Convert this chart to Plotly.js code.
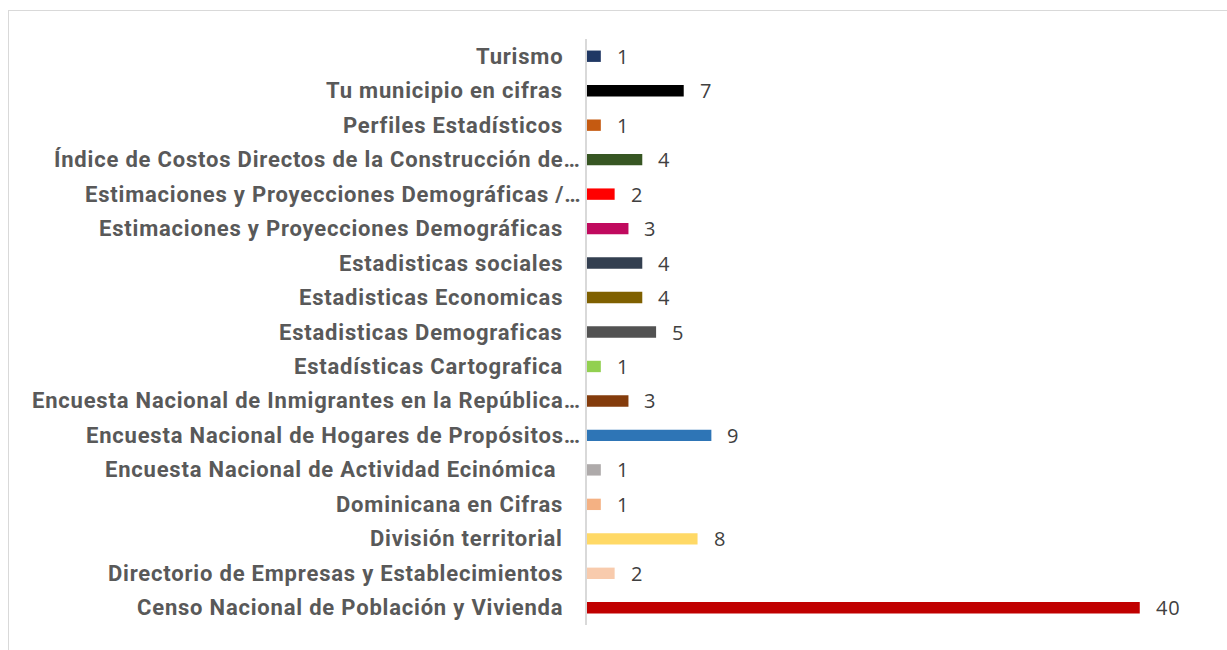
<!DOCTYPE html>
<html>
<head>
<meta charset="utf-8">
<script src="https://cdn.plot.ly/plotly-3.0.1.min.js"></script>
<style>
  html, body { margin: 0; padding: 0; background: #fff; overflow: hidden; }
  #frame { position: absolute; left: 8px; top: 10px; width: 1260px; height: 700px; border: 1px solid #d9d9d9; background: #fff; }
  #chart { position: absolute; left: 0; top: 0; width: 1218px; height: 639px; }
  .annotation-text { letter-spacing: 0.8px; }
</style>
</head>
<body>
<div id="frame"><div id="chart"></div></div>
<script>
// Categories listed bottom-to-top
var categories = [
  "Censo Nacional de Población y Vivienda",
  "Directorio de Empresas y Establecimientos",
  "División territorial",
  "Dominicana en Cifras",
  "Encuesta Nacional de Actividad Ecinómica ",
  "Encuesta Nacional de Hogares de Propósitos…",
  "Encuesta Nacional de Inmigrantes en la República…",
  "Estadísticas Cartografica",
  "Estadisticas Demograficas",
  "Estadisticas Economicas",
  "Estadisticas sociales",
  "Estimaciones y Proyecciones Demográficas",
  "Estimaciones y Proyecciones Demográficas /…",
  "Índice de Costos Directos de la Construcción de…",
  "Perfiles Estadísticos",
  "Tu municipio en cifras",
  "Turismo"
];
var values = [40, 2, 8, 1, 1, 9, 3, 1, 5, 4, 4, 3, 2, 4, 1, 7, 1];
var barColors = [
  "#C00000", "#F8CBAD", "#FFD966", "#F4B183", "#AEAAAA", "#2E75B6",
  "#843C0C", "#92D050", "#525252", "#7F6000", "#333F50", "#C00A5E",
  "#FF0000", "#375623", "#C55A11", "#000000", "#203864"
];

var trace = {
  type: "bar",
  orientation: "h",
  x: values,
  y: categories,
  marker: { color: barColors, line: { width: 0 } },
  hoverinfo: "x+y"
};

// Category labels (truncated ones reach closer to the axis, as in the source)
var labelAnnotations = categories.map(function (c) {
  var truncated = c.charAt(c.length - 1) === "…";
  return {
    x: 0, y: c, xref: "x", yref: "y",
    text: c.replace(/ $/, "&nbsp;"), showarrow: false,
    xanchor: "right", yanchor: "middle", align: "right",
    xshift: truncated ? -4 : -22,
    font: { family: "Roboto, sans-serif", size: 22, color: "#595959", weight: "bold" }
  };
});

var valueAnnotations = categories.map(function (c, i) {
  return {
    x: values[i], y: c, xref: "x", yref: "y",
    text: String(values[i]), showarrow: false,
    xanchor: "left", yanchor: "middle", xshift: 14,
    font: { family: "Open Sans, DejaVu Sans, sans-serif", size: 20, color: "#404040" }
  };
});

var layout = {
  width: 1218,
  height: 639,
  margin: { l: 578, r: 27, t: 28, b: 25 },
  paper_bgcolor: "#ffffff",
  plot_bgcolor: "#ffffff",
  showlegend: false,
  bargap: 0.67,
  xaxis: {
    range: [0, 44.36],
    showgrid: false, zeroline: false, showline: false,
    showticklabels: false, ticks: ""
  },
  yaxis: {
    type: "category",
    categoryorder: "array",
    categoryarray: categories,
    showgrid: false, zeroline: false,
    showline: true, linecolor: "#d9d9d9", linewidth: 2,
    ticks: "", showticklabels: false
  },
  annotations: labelAnnotations.concat(valueAnnotations)
};

Plotly.newPlot("chart", [trace], layout, { displayModeBar: false, staticPlot: true });
</script>
</body>
</html>
